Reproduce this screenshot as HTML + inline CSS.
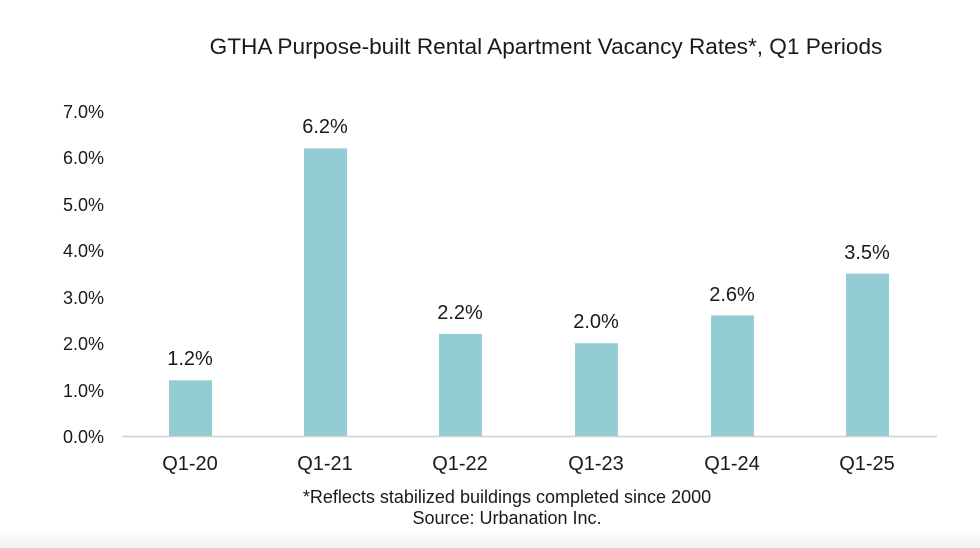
<!DOCTYPE html>
<html><head><meta charset="utf-8"><style>
html,body{margin:0;padding:0;background:#fff;}
svg{display:block;}
text{font-family:"Liberation Sans",Arial,sans-serif;fill:#1a1a1a;}
</style></head><body>
<svg width="980" height="548" viewBox="0 0 980 548">
<defs><linearGradient id="g" x1="0" y1="0" x2="0" y2="1"><stop offset="0" stop-color="#fff"/><stop offset="1" stop-color="#f0f0f0"/></linearGradient></defs>
<rect width="980" height="548" fill="#fff"/>
<rect x="0" y="530" width="980" height="18" fill="url(#g)"/>
<text x="546" y="54" font-size="22.6" text-anchor="middle">GTHA Purpose-built Rental Apartment Vacancy Rates*, Q1 Periods</text>
<g font-size="18" text-anchor="end">
<text x="104" y="443">0.0%</text>
<text x="104" y="397">1.0%</text>
<text x="104" y="350">2.0%</text>
<text x="104" y="304">3.0%</text>
<text x="104" y="257">4.0%</text>
<text x="104" y="211">5.0%</text>
<text x="104" y="164">6.0%</text>
<text x="104" y="118">7.0%</text>
</g>
<g fill="#93cdd3">
<rect x="169" y="380.3" width="43" height="55.7"/>
<rect x="304" y="148.3" width="43" height="287.7"/>
<rect x="439" y="333.9" width="43" height="102.1"/>
<rect x="575" y="343.2" width="43" height="92.8"/>
<rect x="711" y="315.4" width="43" height="120.6"/>
<rect x="846" y="273.6" width="43" height="162.4"/>
</g>
<line x1="122" y1="436.5" x2="937" y2="436.5" stroke="#d0d0d0" stroke-width="1.5"/>
<g font-size="20" text-anchor="middle">
<text x="190" y="365">1.2%</text>
<text x="325" y="133">6.2%</text>
<text x="460" y="319">2.2%</text>
<text x="596" y="328">2.0%</text>
<text x="732" y="301">2.6%</text>
<text x="867" y="259">3.5%</text>
<text x="190" y="470">Q1-20</text>
<text x="325" y="470">Q1-21</text>
<text x="460" y="470">Q1-22</text>
<text x="596" y="470">Q1-23</text>
<text x="732" y="470">Q1-24</text>
<text x="867" y="470">Q1-25</text>
</g>
<g font-size="18" text-anchor="middle">
<text x="507" y="503">*Reflects stabilized buildings completed since 2000</text>
<text x="507" y="524">Source: Urbanation Inc.</text>
</g>
</svg>
</body></html>
